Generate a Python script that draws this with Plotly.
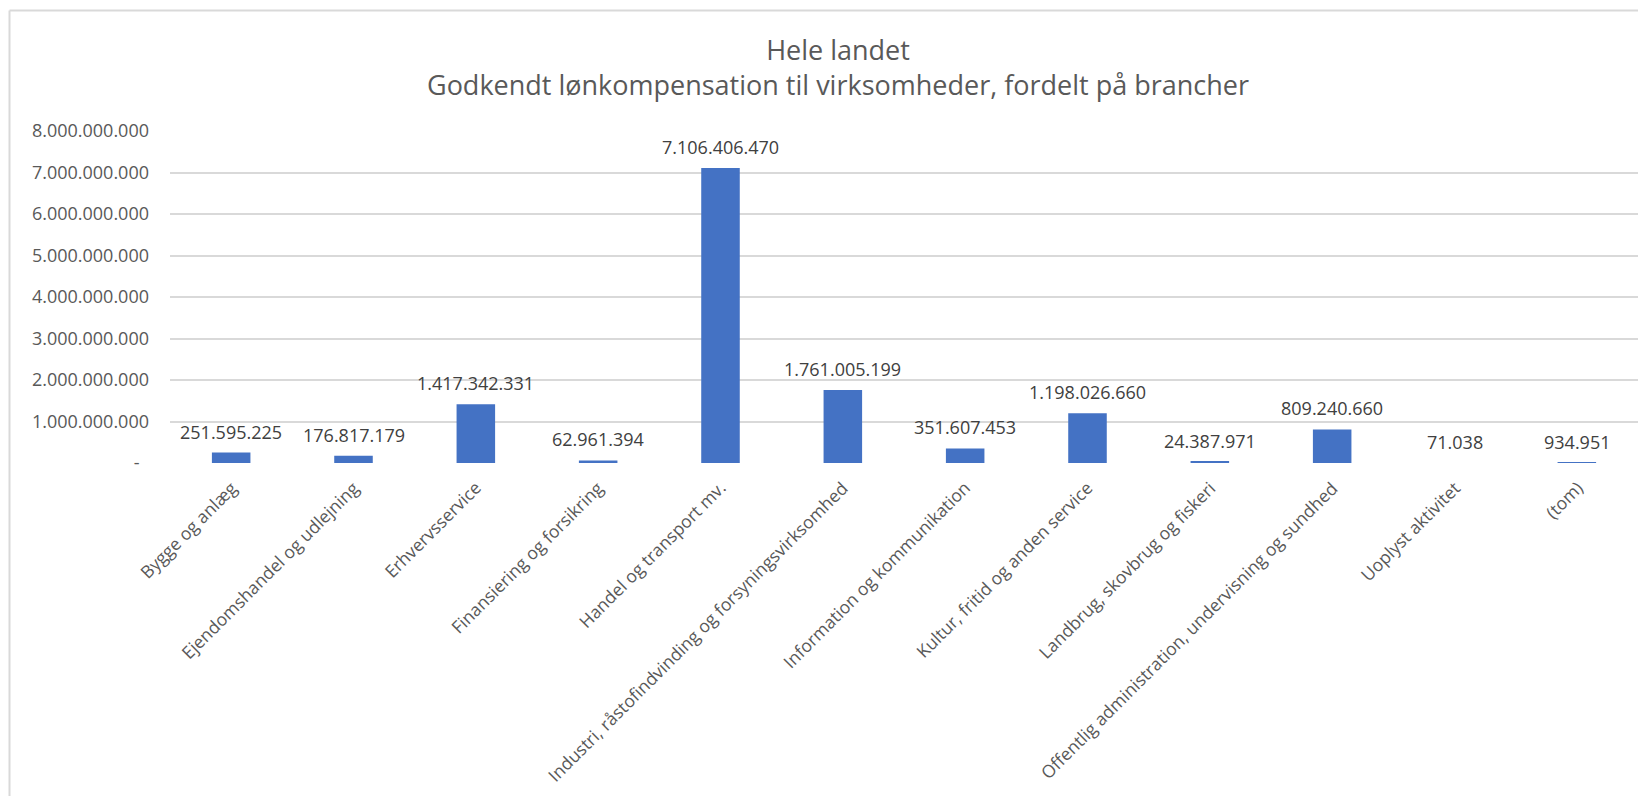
import plotly.graph_objects as go

categories = [
    "Bygge og anlæg",
    "Ejendomshandel og udlejning",
    "Erhvervsservice",
    "Finansiering og forsikring",
    "Handel og transport mv.",
    "Industri, råstofindvinding og forsyningsvirksomhed",
    "Information og kommunikation",
    "Kultur, fritid og anden service",
    "Landbrug, skovbrug og fiskeri",
    "Offentlig administration, undervisning og sundhed",
    "Uoplyst aktivitet",
    "(tom)",
]
values = [
    251595225,
    176817179,
    1417342331,
    62961394,
    7106406470,
    1761005199,
    351607453,
    1198026660,
    24387971,
    809240660,
    71038,
    934951,
]
y_tick_values = [0, 1e9, 2e9, 3e9, 4e9, 5e9, 6e9, 7e9, 8e9]
title_line1 = "Hele landet"
title_line2 = "Godkendt lønkompensation til virksomheder, fordelt på brancher"


def dk(v):
    return f"{int(v):,}".replace(",", ".")


y_tick_text = [("-\u00a0\u00a0" if v == 0 else dk(v)) for v in y_tick_values]

FONT = "Open Sans"
AXIS_COLOR = "#595959"
LABEL_COLOR = "#404040"
GRID = "#D9D9D9"

# page body has an 8px default margin; the figure is sized to fill the rest
W, H = 1638, 788
L, R, T, B = 162, 8, 123, 333
PH = H - T - B
PW = W - L - R


def px_to_paper_x(px):
    return (px - L) / PW


def py_to_paper_y(py):
    return (H - B - py) / PH


positions = list(range(len(categories)))

fig = go.Figure()
fig.add_trace(go.Bar(
    x=positions,
    y=values,
    marker=dict(color="#4472C4", line=dict(width=0)),
    customdata=categories,
    hovertemplate="%{customdata}<br>%{y}<extra></extra>",
))

annotations = []
# value labels above the bars
for p, v in zip(positions, values):
    annotations.append(dict(
        x=p, y=v, xref="x", yref="y",
        text=dk(v), showarrow=False,
        yanchor="middle", yshift=21,
        font=dict(family=FONT, size=18, color=LABEL_COLOR),
    ))

# rotated category labels, their upper end just below the axis
for p, c in zip(positions, categories):
    annotations.append(dict(
        x=p, y=0, xref="x", yref="y",
        text=c, showarrow=False, textangle=-45,
        xanchor="right", yanchor="top",
        xshift=13, yshift=-10,
        font=dict(family=FONT, size=17.5, color=AXIS_COLOR),
    ))

annotations.append(dict(
    x=px_to_paper_x(830), y=py_to_paper_y(58.5), xref="paper", yref="paper",
    text=title_line1 + "<br>" + title_line2, showarrow=False,
    xanchor="center", yanchor="middle", align="center",
    font=dict(family=FONT, size=27, color=AXIS_COLOR),
))

shapes = [
    dict(type="line", xref="paper", yref="paper",
         x0=px_to_paper_x(1.5), x1=px_to_paper_x(1700),
         y0=py_to_paper_y(2.5), y1=py_to_paper_y(2.5),
         line=dict(color=GRID, width=2)),
    dict(type="line", xref="paper", yref="paper",
         x0=px_to_paper_x(1.5), x1=px_to_paper_x(1.5),
         y0=py_to_paper_y(2.5), y1=py_to_paper_y(900),
         line=dict(color=GRID, width=2)),
]

fig.update_layout(
    width=W, height=H,
    margin=dict(l=L, r=R, t=T, b=B, autoexpand=False),
    paper_bgcolor="white",
    plot_bgcolor="white",
    bargap=0.685,
    showlegend=False,
    annotations=annotations,
    shapes=shapes,
    font=dict(family=FONT, color=AXIS_COLOR),
)
fig.update_xaxes(
    range=[-0.5, len(categories) - 0.5],
    showticklabels=False,
    showgrid=False,
    showline=False,
    zeroline=False,
    ticks="",
    automargin=False,
)
fig.update_yaxes(
    range=[0, 8e9],
    tickvals=y_tick_values,
    ticktext=y_tick_text,
    tickfont=dict(family=FONT, size=18, color=AXIS_COLOR),
    showgrid=True,
    gridcolor=GRID,
    gridwidth=1.5,
    zeroline=False,
    showline=False,
    ticks="",
    ticklabelstandoff=20,
    automargin=False,
)

fig.write_html("out.html")
